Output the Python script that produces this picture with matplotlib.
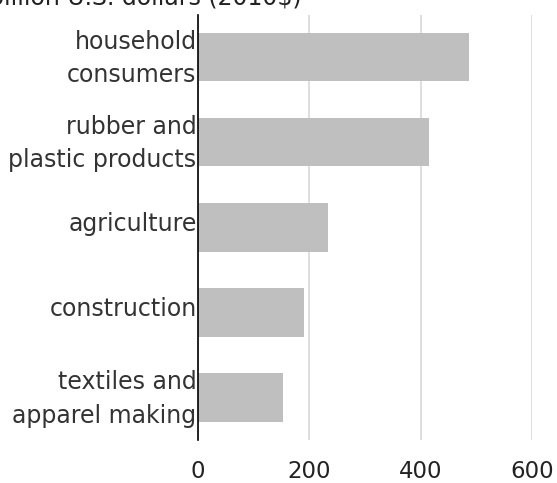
import matplotlib.pyplot as plt
from matplotlib import transforms

plt.rcParams['font.family'] = ['DejaVu Sans']

categories = ['household\nconsumers', 'rubber and\nplastic products', 'agriculture',
              'construction', 'textiles and\napparel making']
values = [487, 415, 233, 190, 153]
xticks = [0, 200, 400, 600]

fig = plt.figure(figsize=(5.57, 4.83), dpi=100)
ax = fig.add_axes([0.3555, 0.089, 0.5995, 0.88])

ypos = list(range(len(categories)))
ax.barh(ypos, values, height=0.565, color='#bfbfbf', zorder=2)
ax.set_ylim(len(categories) - 0.5, -0.5)
ax.set_xlim(0, 600)

ax.set_yticks(ypos)
ax.set_yticklabels(categories, fontsize=17, color='#333333', linespacing=1.5)
ax.set_xticks(xticks)
ax.set_xticklabels([str(x) for x in xticks], fontsize=16.5, color='#222222')
ax.tick_params(axis='both', length=0, pad=1)
ax.tick_params(axis='x', pad=14.5)

# nudge category labels up a little
shift = transforms.ScaledTranslation(0, 6 / 100, fig.dpi_scale_trans)
for lbl in ax.get_yticklabels():
    lbl.set_transform(lbl.get_transform() + shift)

ax.grid(axis='x', color='#d9d9d9', linewidth=1.2, zorder=0)
for side in ['top', 'right', 'bottom']:
    ax.spines[side].set_visible(False)
ax.spines['left'].set_color('black')
ax.spines['left'].set_linewidth(1.2)
ax.spines['left'].set_zorder(3)

fig.text(-0.02, 1 - 5 / 483, 'billion U.S. dollars (2010$)', fontsize=17,
         color='#222222', ha='left', va='baseline')

fig.savefig('out.png', dpi=100)
